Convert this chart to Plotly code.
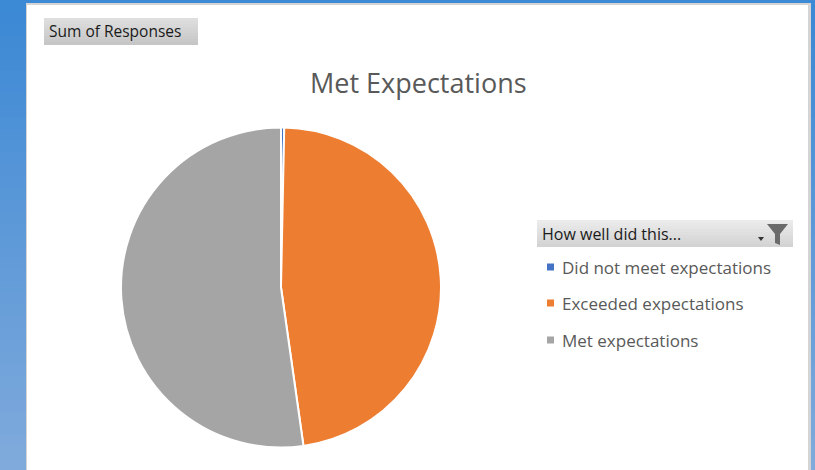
import plotly.graph_objects as go

categories = ["Did not meet expectations", "Exceeded expectations", "Met expectations"]
responses = [1, 148, 163]
colors = ["#4472C4", "#ED7D31", "#A5A5A5"]
title_text = "Met Expectations"
field_button = "Sum of Responses"
legend_header = "How well did this..."

W, H = 815, 470
def px(x): return x / W
def py(y): return 1 - y / H

fig = go.Figure()
fig.add_trace(go.Pie(
    labels=categories, values=responses, sort=False, direction="clockwise", rotation=0,
    marker=dict(colors=colors, line=dict(color="white", width=2)),
    textinfo="none", hoverinfo="skip", showlegend=False,
    domain=dict(x=[px(121), px(441)], y=[py(447.5), py(127.5)]),
))

shapes = []
# blue gradient background
top = (60, 137, 213); bot = (128, 170, 220)
n = 40
for i in range(n):
    t = i / (n - 1)
    c = tuple(int(top[k] + (bot[k] - top[k]) * t) for k in range(3))
    shapes.append(dict(type="rect", xref="paper", yref="paper", layer="below",
                       x0=0, x1=1, y0=py(H * (i + 1) / n + 1), y1=py(H * i / n),
                       line=dict(width=0), fillcolor="rgb(%d,%d,%d)" % c))
# panel shadow + panel
shapes.append(dict(type="rect", xref="paper", yref="paper", layer="below",
                   x0=px(26), x1=px(811), y0=0, y1=py(3), line=dict(width=0), fillcolor="#d4d4d4"))
shapes.append(dict(type="rect", xref="paper", yref="paper", layer="below",
                   x0=px(27), x1=px(808), y0=0, y1=py(5), line=dict(width=0), fillcolor="white"))
# Sum of Responses button (gradient)
for i in range(9):
    g = 222 - i * 3
    shapes.append(dict(type="rect", xref="paper", yref="paper", layer="below",
                       x0=px(44), x1=px(198), y0=py(18 + 3 * (i + 1)), y1=py(18 + 3 * i),
                       line=dict(width=0), fillcolor="rgb(%d,%d,%d)" % (g, g, g)))
# legend header bar (gradient)
for i in range(9):
    g = 235 - i * 3
    shapes.append(dict(type="rect", xref="paper", yref="paper", layer="below",
                       x0=px(537), x1=px(793), y0=py(220 + 3 * (i + 1)), y1=py(220 + 3 * i),
                       line=dict(width=0), fillcolor="rgb(%d,%d,%d)" % (g, g, g)))
# filter icon (funnel + small dropdown arrow)
def P(x, y): return "%f,%f" % (px(x), py(y))
funnel = "M " + P(767, 224) + " L " + P(788, 224) + " L " + P(780, 234) + " L " + P(780, 245) + \
         " L " + P(775, 243) + " L " + P(775, 234) + " Z"
shapes.append(dict(type="path", xref="paper", yref="paper", path=funnel,
                   fillcolor="#6a6a6a", line=dict(width=0)))
arrow = "M " + P(758, 237) + " L " + P(764, 237) + " L " + P(761, 241) + " Z"
shapes.append(dict(type="path", xref="paper", yref="paper", path=arrow,
                   fillcolor="#333333", line=dict(width=0)))

annotations = [
    dict(text=title_text, x=px(418), y=py(83), xref="paper", yref="paper", showarrow=False,
         font=dict(family="Open Sans", size=27, color="#595959"), xanchor="center", yanchor="middle"),
    dict(text=field_button, x=px(47), y=py(31.5), xref="paper", yref="paper", showarrow=False,
         font=dict(family="Open Sans", size=15.5, color="#1a1a1a"), xanchor="left", yanchor="middle"),
    dict(text=legend_header, x=px(540), y=py(234), xref="paper", yref="paper", showarrow=False,
         font=dict(family="Open Sans", size=16, color="#1a1a1a"), xanchor="left", yanchor="middle"),
]
item_y = [267, 303, 340]
for cat, col, yy in zip(categories, colors, item_y):
    shapes.append(dict(type="rect", xref="paper", yref="paper",
                       x0=px(547), x1=px(554), y0=py(yy + 3.5), y1=py(yy - 3.5),
                       fillcolor=col, line=dict(width=0)))
    annotations.append(dict(text=cat, x=px(560), y=py(yy), xref="paper", yref="paper", showarrow=False,
                            font=dict(family="Open Sans", size=17, color="#595959"),
                            xanchor="left", yanchor="middle"))

fig.update_layout(width=W, height=H, margin=dict(l=0, r=0, t=0, b=0),
                  paper_bgcolor="white", plot_bgcolor="white",
                  shapes=shapes, annotations=annotations, showlegend=False)
fig.write_html("out.html", config={"displayModeBar": False, "staticPlot": True},
               post_script="document.body.style.margin='0';document.body.style.overflow='hidden';")
